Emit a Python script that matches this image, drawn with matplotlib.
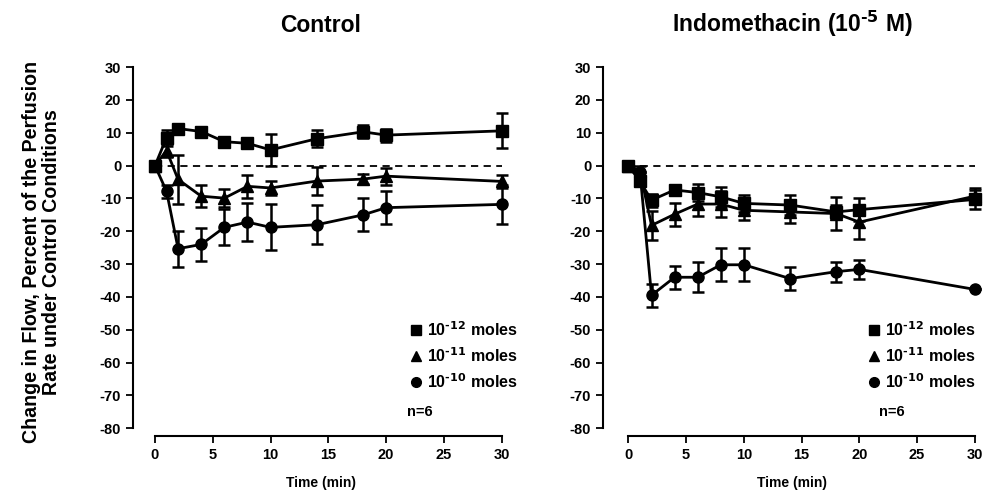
import numpy as np
import matplotlib.pyplot as plt
from matplotlib.lines import Line2D

plt.rcParams['font.family'] = ['Liberation Sans', 'DejaVu Sans']
plt.rcParams['font.weight'] = 'bold'
plt.rcParams['mathtext.default'] = 'regular'
plt.rcParams['axes.unicode_minus'] = False

time = [0, 1, 2, 4, 6, 8, 10, 14, 18, 20, 30]

# Control
ctl_sq = [0, 8.5, 11.3, 10.4, 7.3, 6.8, 4.8, 8.2, 10.3, 9.3, 10.6]
ctl_sq_err = [0, 2.5, 0.8, 1.2, 0.8, 1.5, 4.9, 2.6, 2.0, 2.0, 5.3]
ctl_tri = [0, 4.6, -4.2, -9.3, -9.9, -6.3, -6.8, -4.7, -4.1, -3.2, -4.8]
ctl_tri_err = [0, 2.0, 7.5, 3.3, 2.8, 3.5, 2.0, 4.2, 1.5, 2.6, 2.0]
ctl_cir = [0, -7.8, -25.3, -24.0, -18.8, -17.2, -18.8, -18.0, -15.0, -12.8, -11.8]
ctl_cir_err = [0, 2.0, 5.5, 5.0, 5.5, 5.8, 7.0, 6.0, 5.0, 5.0, 6.0]

# Indomethacin
ind_sq = [0, -4.8, -10.5, -7.4, -8.2, -9.5, -11.5, -12.0, -14.1, -13.4, -10.3]
ind_sq_err = [0, 1.5, 2.0, 1.2, 2.5, 3.0, 2.5, 3.0, 2.0, 3.5, 3.0]
ind_tri = [0, -1.7, -18.2, -14.8, -11.7, -11.7, -13.6, -14.1, -14.6, -17.2, -9.3]
ind_tri_err = [0, 1.5, 4.5, 3.5, 3.5, 4.0, 3.0, 3.5, 5.0, 5.0, 2.5]
ind_cir = [0, -2.0, -39.5, -34.0, -34.0, -30.2, -30.2, -34.4, -32.3, -31.6, -37.7]
ind_cir_err = [0, 0, 3.5, 3.5, 4.5, 5.0, 5.0, 3.5, 3.0, 3.0, 0]

labels = [r'10$^{\text{-12}}$ moles', r'10$^{\text{-11}}$ moles', r'10$^{\text{-10}}$ moles']
markers = ['s', '^', 'o']
yticks = list(range(30, -90, -10))
xticks = [0, 5, 10, 15, 20, 25, 30]

fig = plt.figure(figsize=(9.86, 4.99), dpi=100)
ax1 = fig.add_axes([0.1349, 0.126, 0.381, 0.744])
ax2 = fig.add_axes([0.6116, 0.126, 0.384, 0.744])

panels = [
    (ax1, 'Control', [(ctl_sq, ctl_sq_err), (ctl_tri, ctl_tri_err), (ctl_cir, ctl_cir_err)], -1.9, 1.05),
    (ax2, r'Indomethacin (10$^{\text{-5}}$ M)', [(ind_sq, ind_sq_err), (ind_tri, ind_tri_err), (ind_cir, ind_cir_err)], -2.2, 1.01),
]

for ax, title, series, xlo, leg_x in panels:
    ax.plot([0, 30], [0, 0], color='black', lw=1.3, ls=(0, (4, 3)), zorder=1)
    for (vals, errs), m in zip(series, markers):
        ax.errorbar(time, vals, yerr=errs, color='black', marker=m, ms=8 if m != '^' else 8.5,
                    lw=2, elinewidth=1.8, capsize=4, capthick=1.8, zorder=3)
    ax.set_xlim(xlo, 30.6)
    ax.set_ylim(-82.4, 30.7)
    ax.spines['top'].set_visible(False)
    ax.spines['right'].set_visible(False)
    ax.spines['left'].set_bounds(-80, 30)
    ax.spines['bottom'].set_bounds(0, 30)
    ax.spines['left'].set_linewidth(1.5)
    ax.spines['bottom'].set_linewidth(1.5)
    ax.set_yticks(yticks)
    ax.set_xticks(xticks)
    ax.tick_params(direction='out', length=5, width=1.3, labelsize=10.5)
    for t in ax.get_xticklabels() + ax.get_yticklabels():
        t.set_fontweight('bold')
    ax.set_xlabel('Time (min)', fontsize=10, fontweight='bold', labelpad=10)
    ax.set_title(title, fontsize=16.5, fontweight='bold', pad=24)
    handles = [Line2D([], [], color='black', marker=m, ls='none', ms=7) for m in markers]
    ax.legend(handles, labels, loc='lower right', bbox_to_anchor=(leg_x, 0.097), frameon=False,
              fontsize=11.5, handletextpad=0.1, labelspacing=0.45, borderaxespad=0.2,
              handlelength=1.2)
    ax.text(0.73, 0.055, 'n=6', transform=ax.transAxes, fontsize=10.5, fontweight='bold')

fig.text(0.042, 0.495, 'Change in Flow, Percent of the Perfusion\nRate under Control Conditions',
         rotation=90, ha='center', va='center', fontsize=14.1, fontweight='bold', linespacing=1.05)

fig.savefig('out.png', dpi=100)
